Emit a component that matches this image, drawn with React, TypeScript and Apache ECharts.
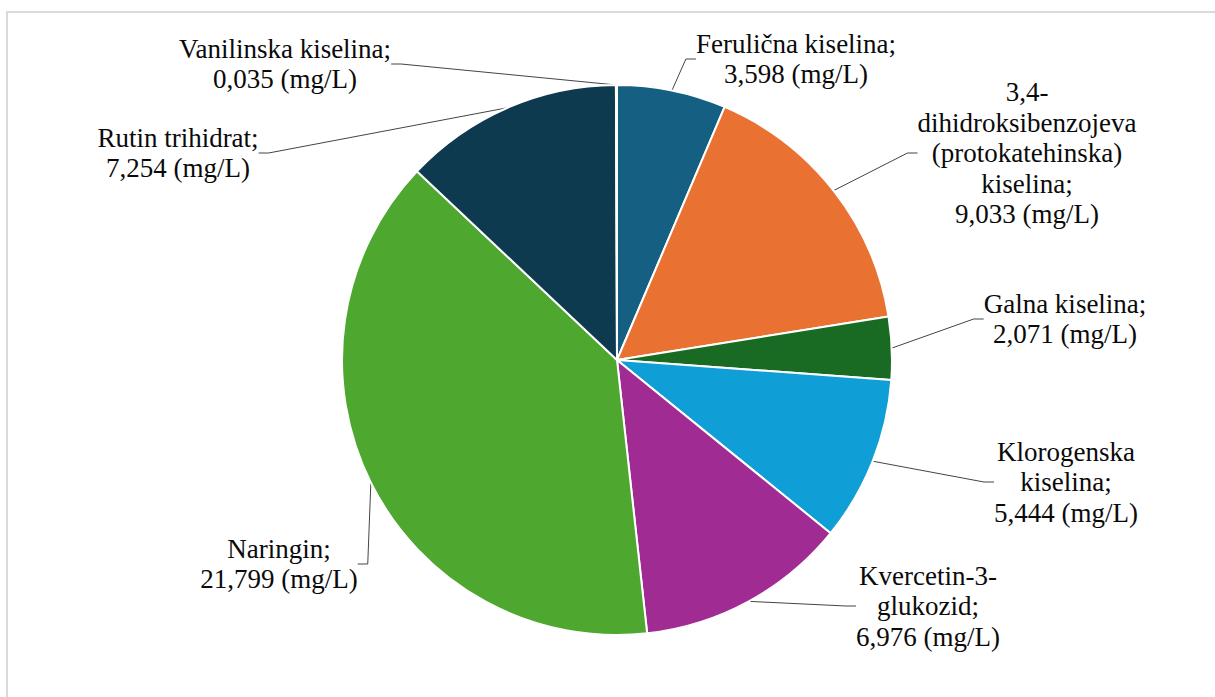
import React, { useEffect, useRef } from "react";
import * as echarts from "echarts";

const categories = [
  "Ferulična kiselina",
  "3,4-\ndihidroksibenzojeva\n(protokatehinska)\nkiselina",
  "Galna kiselina",
  "Klorogenska\nkiselina",
  "Kvercetin-3-\nglukozid",
  "Naringin",
  "Rutin trihidrat",
  "Vanilinska kiselina",
];
const values = [3.598, 9.033, 2.071, 5.444, 6.976, 21.799, 7.254, 0.035];
const colors = ["#156082", "#E97132", "#196B24", "#0F9ED5", "#A02B93", "#4EA72E", "#0D3A4F", "#8C441E"];
const labelCenters: [number, number][] = [
  [796, 59],
  [1027, 153],
  [1065, 319],
  [1066, 482],
  [928, 606],
  [279, 564],
  [178, 153],
  [285, 64],
];

const FONT = "Liberation Serif";
const textRich = { fontFamily: FONT, fontSize: 27, lineHeight: 30.5, color: "#0a0a0a", align: "center" };

export default function App() {
  const ref = useRef<HTMLDivElement>(null);
  useEffect(() => {
    document.body.style.margin = "0";
    const chart = echarts.init(ref.current!, undefined, { renderer: "svg" });
    chart.setOption({
      animation: false,
      backgroundColor: "#ffffff",
      textStyle: { fontFamily: FONT },
      graphic: [
        {
          type: "rect",
          shape: { x: 7, y: 12, width: 1400, height: 900 },
          style: { fill: "none", stroke: "#d9d9d9", lineWidth: 2 },
          silent: true,
        },
      ],
      series: [
        {
          type: "pie",
          center: [617, 360],
          radius: 275,
          startAngle: 90,
          clockwise: true,
          avoidLabelOverlap: false,
          itemStyle: { borderColor: "#ffffff", borderWidth: 2 },
          label: {
            show: true,
            position: "outside",
            fontFamily: FONT,
            fontSize: 27,
            lineHeight: 30.5,
            color: "#0a0a0a",
            align: "center",
            formatter: (p: any) => {
              const lines = (p.name + ";\n" + p.value.toFixed(3).replace(".", ",") + " (mg/L)").split("\n");
              return lines.map((l: string) => "{t|" + l + "}").join("\n");
            },
            rich: { t: textRich },
          },
          labelLine: {
            show: true,
            length: 10,
            length2: 10,
            lineStyle: { color: "#444444", width: 1 },
          },
          labelLayout: (p: any) => {
            const c = labelCenters[p.dataIndex];
            return { x: c[0], y: c[1], align: "center", verticalAlign: "middle" };
          },
          data: categories.map((name, i) => ({
            name,
            value: values[i],
            itemStyle: { color: colors[i] },
          })),
        },
      ],
    });
    return () => chart.dispose();
  }, []);
  return <div ref={ref} style={{ width: 1215, height: 697 }} />;
}
